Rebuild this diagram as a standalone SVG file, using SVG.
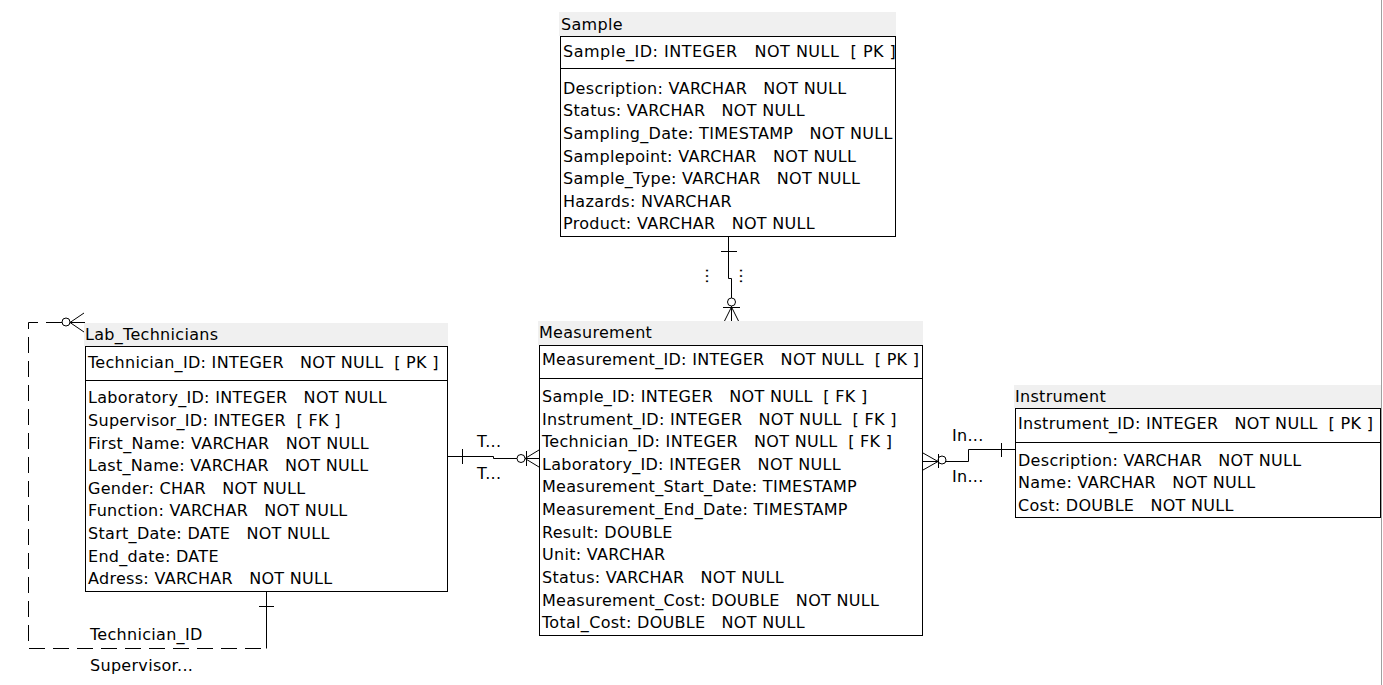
<svg xmlns="http://www.w3.org/2000/svg" width="1383" height="685" viewBox="0 0 1383 685">
<style>
  text { font-family: "DejaVu Sans", sans-serif; font-size: 16px; letter-spacing: 0.3px; fill: #000; white-space: pre; }
  .wide { letter-spacing: 0.5px; }
  .hdr { fill: #f0f0f0; stroke: none; }
  .box { fill: #fff; stroke: #000; stroke-width: 1; }
  .sep { stroke: #000; stroke-width: 1; }
  .ln { fill: none; stroke: #000; stroke-width: 1; }
  .dash { fill: none; stroke: #000; stroke-width: 1; stroke-dasharray: 16 8; }
</style>
<rect x="0" y="0" width="1383" height="685" fill="#fff"/>
<line x1="1381.5" y1="0" x2="1381.5" y2="685" stroke="#a0a0a0" stroke-width="1"/>

<g id="Sample">
  <rect class="hdr" x="559" y="12" width="337" height="24"/>
  <text x="561" y="30">Sample</text>
  <rect class="box" x="560.5" y="36.5" width="335" height="200"/>
  <line class="sep" x1="560.5" y1="68.5" x2="895.5" y2="68.5"/>
  <text class="wide" x="563" y="57">Sample_ID: INTEGER   NOT NULL  [ PK ]</text>
  <text x="563" y="94">Description: VARCHAR   NOT NULL</text>
  <text x="563" y="116">Status: VARCHAR   NOT NULL</text>
  <text x="563" y="139">Sampling_Date: TIMESTAMP   NOT NULL</text>
  <text x="563" y="162">Samplepoint: VARCHAR   NOT NULL</text>
  <text x="563" y="184">Sample_Type: VARCHAR   NOT NULL</text>
  <text x="563" y="207">Hazards: NVARCHAR</text>
  <text x="563" y="229">Product: VARCHAR   NOT NULL</text>
</g>

<g id="Lab_Technicians">
  <rect class="hdr" x="84" y="323" width="364" height="23"/>
  <text x="85" y="340">Lab_Technicians</text>
  <rect class="box" x="85.5" y="346.5" width="362" height="245"/>
  <line class="sep" x1="85.5" y1="380.5" x2="447.5" y2="380.5"/>
  <text x="88" y="368">Technician_ID: INTEGER   NOT NULL  [ PK ]</text>
  <text x="88" y="403">Laboratory_ID: INTEGER   NOT NULL</text>
  <text x="88" y="426">Supervisor_ID: INTEGER  [ FK ]</text>
  <text x="88" y="449">First_Name: VARCHAR   NOT NULL</text>
  <text x="88" y="471">Last_Name: VARCHAR   NOT NULL</text>
  <text x="88" y="494">Gender: CHAR   NOT NULL</text>
  <text x="88" y="516">Function: VARCHAR   NOT NULL</text>
  <text x="88" y="539">Start_Date: DATE   NOT NULL</text>
  <text x="88" y="562">End_date: DATE</text>
  <text x="88" y="584">Adress: VARCHAR   NOT NULL</text>
</g>

<g id="Measurement">
  <rect class="hdr" x="538" y="321" width="385" height="24"/>
  <text x="539" y="338">Measurement</text>
  <rect class="box" x="539.5" y="345.5" width="383" height="290"/>
  <line class="sep" x1="539.5" y1="378.5" x2="922.5" y2="378.5"/>
  <text x="542" y="365">Measurement_ID: INTEGER   NOT NULL  [ PK ]</text>
  <text x="542" y="402">Sample_ID: INTEGER   NOT NULL  [ FK ]</text>
  <text x="542" y="425">Instrument_ID: INTEGER   NOT NULL  [ FK ]</text>
  <text x="542" y="447">Technician_ID: INTEGER   NOT NULL  [ FK ]</text>
  <text x="542" y="470">Laboratory_ID: INTEGER   NOT NULL</text>
  <text x="542" y="492">Measurement_Start_Date: TIMESTAMP</text>
  <text x="542" y="515">Measurement_End_Date: TIMESTAMP</text>
  <text x="542" y="538">Result: DOUBLE</text>
  <text x="542" y="560">Unit: VARCHAR</text>
  <text x="542" y="583">Status: VARCHAR   NOT NULL</text>
  <text x="542" y="606">Measurement_Cost: DOUBLE   NOT NULL</text>
  <text x="542" y="628">Total_Cost: DOUBLE   NOT NULL</text>
</g>

<g id="Instrument">
  <rect class="hdr" x="1014" y="385" width="367" height="23"/>
  <text x="1015" y="402">Instrument</text>
  <rect class="box" x="1015.5" y="408.5" width="365" height="109"/>
  <line class="sep" x1="1015.5" y1="442.5" x2="1380.5" y2="442.5"/>
  <text x="1018" y="429">Instrument_ID: INTEGER   NOT NULL  [ PK ]</text>
  <text x="1018" y="466">Description: VARCHAR   NOT NULL</text>
  <text x="1018" y="488">Name: VARCHAR   NOT NULL</text>
  <text x="1018" y="511">Cost: DOUBLE   NOT NULL</text>
</g>

<g id="connectors">
  <!-- Sample to Measurement -->
  <polyline class="ln" points="728.5,237 728.5,278.5 731.5,278.5 731.5,298"/>
  <line class="ln" x1="721" y1="251.5" x2="737" y2="251.5"/>
  <circle class="ln" cx="731.5" cy="302" r="4"/>
  <line class="ln" x1="723" y1="307.5" x2="740" y2="307.5"/>
  <line class="ln" x1="731.5" y1="306" x2="731.5" y2="321"/>
  <line class="ln" x1="731.5" y1="307" x2="724.5" y2="321"/>
  <line class="ln" x1="731.5" y1="307" x2="738.5" y2="321"/>
  <text x="703" y="275" transform="rotate(90 708 273)">...</text>
  <text x="737" y="275" transform="rotate(90 742 273)">...</text>

  <!-- Lab_Technicians to Measurement -->
  <polyline class="ln" points="448,456.5 493.5,456.5 493.5,458.5 517,458.5"/>
  <line class="ln" x1="462.5" y1="449" x2="462.5" y2="464"/>
  <circle class="ln" cx="521" cy="458.5" r="4"/>
  <line class="ln" x1="525" y1="458.5" x2="539" y2="458.5"/>
  <line class="ln" x1="525" y1="458.5" x2="539" y2="450"/>
  <line class="ln" x1="525" y1="458.5" x2="539" y2="467"/>
  <line class="ln" x1="526.5" y1="451" x2="526.5" y2="466"/>
  <text x="477" y="447">T...</text>
  <text x="477" y="479">T...</text>

  <!-- Measurement to Instrument -->
  <line class="ln" x1="923" y1="461.5" x2="938" y2="461.5"/>
  <line class="ln" x1="923" y1="453" x2="938" y2="461.5"/>
  <line class="ln" x1="923" y1="470" x2="938" y2="461.5"/>
  <line class="ln" x1="938.5" y1="454" x2="938.5" y2="468"/>
  <circle class="ln" cx="942" cy="460" r="4"/>
  <polyline class="ln" points="946,461.5 968.5,461.5 968.5,449.5 1015,449.5"/>
  <line class="ln" x1="1001.5" y1="443" x2="1001.5" y2="457"/>
  <text x="952" y="441">In...</text>
  <text x="952" y="482">In...</text>

  <!-- Lab_Technicians self reference -->
  <polyline class="dash" points="62,322.5 28.5,322.5 28.5,648.5 266.5,648.5"/>
  <line class="ln" x1="266.5" y1="592" x2="266.5" y2="648.5"/>
  <line class="ln" x1="259" y1="606.5" x2="274" y2="606.5"/>
  <circle class="ln" cx="66" cy="322" r="4"/>
  <line class="ln" x1="70" y1="322.5" x2="85" y2="322.5"/>
  <line class="ln" x1="70" y1="322.5" x2="84" y2="313"/>
  <line class="ln" x1="70" y1="322.5" x2="84" y2="332"/>
  <text x="90" y="640">Technician_ID</text>
  <text x="90" y="671">Supervisor...</text>
</g>
</svg>
